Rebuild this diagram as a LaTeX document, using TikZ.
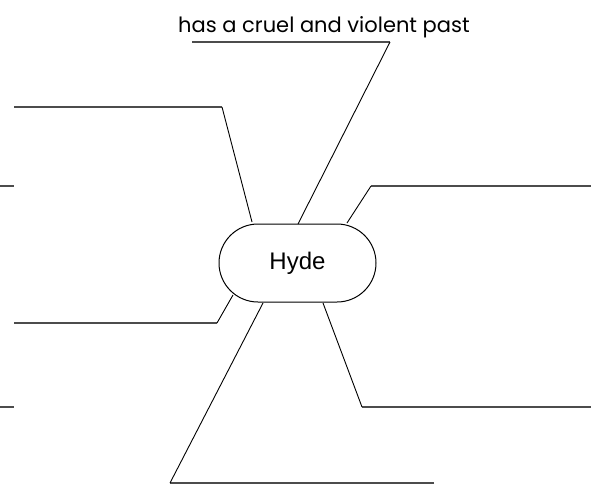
\documentclass[tikz,border=0pt]{standalone}
\usepackage{fontspec}
\setmainfont{Liberation Sans}
\newfontfamily\handfont{Poppins}
\usetikzlibrary{shapes.misc}
\begin{document}
\begin{tikzpicture}[x=1pt,y=-1pt,
  hline/.style={draw=black!70, line width=1.4pt},
  dline/.style={draw=black, line width=0.9pt},
  central/.style={rounded rectangle, draw=black, line width=1pt, minimum width=157pt, minimum height=78pt, inner sep=0pt, font=\fontsize{24}{28}\selectfont},
  label/.style={font=\handfont\fontsize{21}{24}\selectfont, inner sep=0pt, anchor=base west}]
\useasboundingbox (0,0) rectangle (591,488);
\node[central] (hyde) at (297.5,263) {Hyde};
% top branch
\node[label] (lbl) at (178,32) {has a cruel and violent past};
\coordinate (u1) at (192,42);
\coordinate (u2) at (390,42);
\coordinate (t0) at (298,224);
\draw[hline] (u1) -- (u2);
\draw[dline] (u2) -- (t0);
% top-left
\coordinate (a1) at (14,107);
\coordinate (a2) at (222,107);
\coordinate (a3) at (252,222);
\draw[hline] (a1) -- (a2);
\draw[dline] (a2) -- (a3);
% left stubs
\coordinate (s1) at (0,186);
\coordinate (s2) at (14,186);
\draw[hline] (s1) -- (s2);
\coordinate (s3) at (0,407);
\coordinate (s4) at (14,407);
\draw[hline] (s3) -- (s4);
% bottom-left
\coordinate (b1) at (14,323);
\coordinate (b2) at (217,323);
\coordinate (b3) at (233,295);
\draw[hline] (b1) -- (b2);
\draw[dline] (b2) -- (b3);
% right-top
\coordinate (c1) at (591,186);
\coordinate (c2) at (371,186);
\coordinate (c3) at (347,223);
\draw[hline] (c1) -- (c2);
\draw[dline] (c2) -- (c3);
% right-bottom
\coordinate (d1) at (591,407);
\coordinate (d2) at (362,407);
\coordinate (d3) at (323,303);
\draw[hline] (d1) -- (d2);
\draw[dline] (d2) -- (d3);
% bottom
\coordinate (e1) at (434,483);
\coordinate (e2) at (170,483);
\coordinate (e3) at (263,303);
\draw[hline] (e1) -- (e2);
\draw[dline] (e2) -- (e3);
\end{tikzpicture}
\end{document}
